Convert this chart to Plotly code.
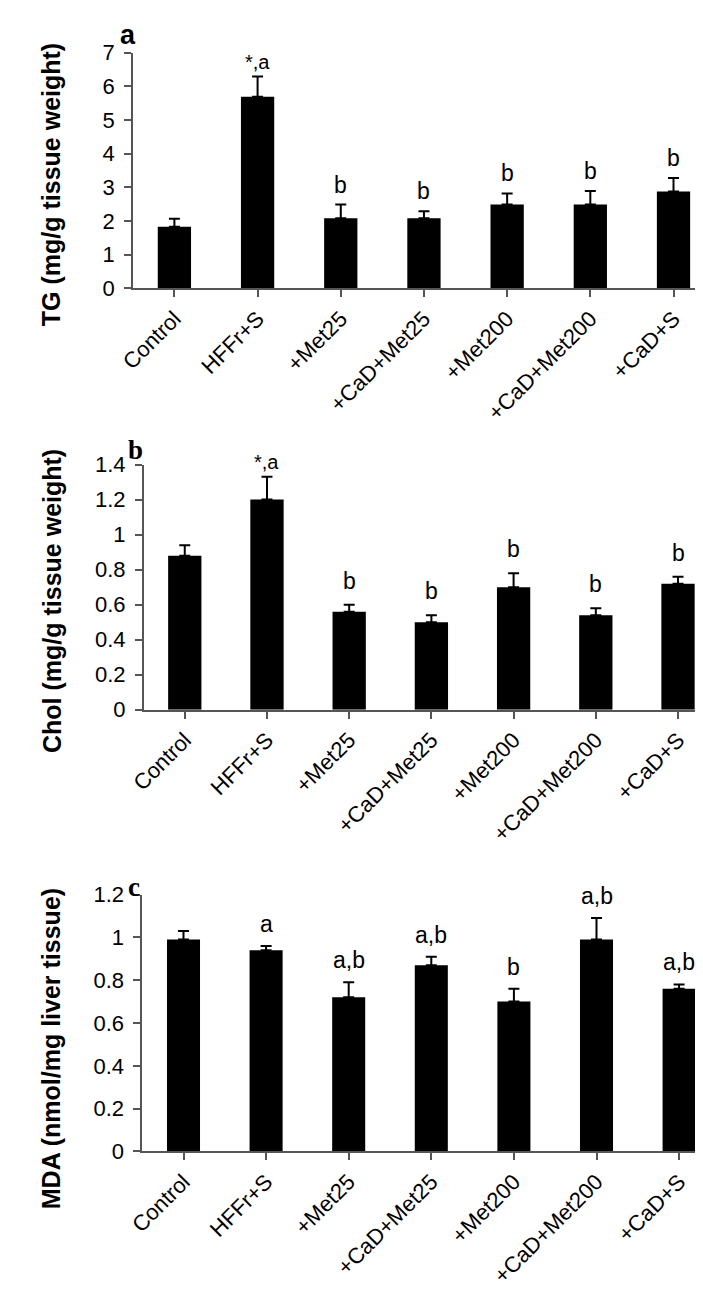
import plotly.graph_objects as go

groups = ["Control", "HFFr+S", "+Met25", "+CaD+Met25", "+Met200", "+CaD+Met200", "+CaD+S"]

tg_mean = [1.83, 5.69, 2.08, 2.08, 2.49, 2.49, 2.88]
tg_err = [0.24, 0.60, 0.41, 0.21, 0.33, 0.40, 0.40]
tg_sig = ["", "*,a", "b", "b", "b", "b", "b"]

chol_mean = [0.88, 1.20, 0.56, 0.50, 0.70, 0.54, 0.72]
chol_err = [0.06, 0.13, 0.04, 0.04, 0.08, 0.04, 0.04]
chol_sig = ["", "*,a", "b", "b", "b", "b", "b"]

mda_mean = [0.99, 0.94, 0.72, 0.87, 0.70, 0.99, 0.76]
mda_err = [0.04, 0.02, 0.07, 0.04, 0.06, 0.10, 0.02]
mda_sig = ["", "a", "a,b", "a,b", "b", "a,b", "a,b"]

tg_ticks = [0, 1, 2, 3, 4, 5, 6, 7]
chol_ticks = [0, 0.2, 0.4, 0.6, 0.8, 1, 1.2, 1.4]
mda_ticks = [0, 0.2, 0.4, 0.6, 0.8, 1, 1.2]

W, H = 703, 1299
SANS = "Liberation Sans, Arial, sans-serif"
SERIF = "Liberation Serif, Times New Roman, serif"
AX = "#555555"

panels = [
    dict(mean=tg_mean, err=tg_err, sig=tg_sig, ticks=tg_ticks, yr=[0, 7],
         left=112.2, step=85.0, zero=273.7, top=33.3, bw=0.40,
         title="TG (mg/g tissue weight)", tx=28, ty=168, sigshift=20,
         letter="a", lfont=SANS, lx=107.5, ly=15),
    dict(mean=chol_mean, err=chol_err, sig=chol_sig, ticks=chol_ticks, yr=[0, 1.4],
         left=123.3, step=84.0, zero=703.3, top=453.3, bw=0.405,
         title="Chol (mg/g tissue weight)", tx=29, ty=592, sigshift=24,
         letter="b", lfont=SERIF, lx=114.5, ly=438),
    dict(mean=mda_mean, err=mda_err, sig=mda_sig, ticks=mda_ticks, yr=[0, 1.2],
         left=121.8, step=84.4, zero=1153.7, top=891.7, bw=0.40,
         title="MDA (nmol/mg liver tissue)", tx=28, ty=1049, sigshift=22,
         letter="c", lfont=SERIF, lx=113.5, ly=884),
]

fig = go.Figure()
annotations = []
layout = {}
for i, p in enumerate(panels, start=1):
    xa = "x" if i == 1 else f"x{i}"
    ya = "y" if i == 1 else f"y{i}"
    xname = "xaxis" if i == 1 else f"xaxis{i}"
    yname = "yaxis" if i == 1 else f"yaxis{i}"
    fig.add_trace(go.Bar(
        x=list(range(len(groups))), y=p["mean"], width=p["bw"],
        marker=dict(color="black", line=dict(width=0)),
        error_y=dict(type="data", symmetric=False, array=p["err"],
                     arrayminus=[0] * len(groups), color="black",
                     thickness=2, width=5.5),
        xaxis=xa, yaxis=ya, hoverinfo="skip"))
    xr_max = -0.5 + (W - p["left"]) / p["step"]
    layout[xname] = dict(
        domain=[p["left"] / W, 1], range=[-0.5, xr_max], anchor=ya,
        tickmode="array", tickvals=list(range(len(groups))), ticktext=groups,
        tickangle=-45, tickson="boundaries", ticks="outside", ticklen=7,
        tickcolor=AX, tickwidth=1.5, showline=True, linecolor=AX, linewidth=1.5,
        showgrid=False, zeroline=False,
        tickfont=dict(family=SANS, size=22, color="black"))
    layout[yname] = dict(
        domain=[1 - p["zero"] / H, 1 - p["top"] / H], range=p["yr"], anchor=xa,
        tickmode="array", tickvals=p["ticks"], ticks="outside", ticklen=7,
        tickcolor=AX, tickwidth=1.5, showline=True, linecolor=AX, linewidth=1.5,
        showgrid=False, zeroline=False, ticklabelstandoff=5,
        tickfont=dict(family=SANS, size=22, color="black"))
    for k, s in enumerate(p["sig"]):
        if not s:
            continue
        annotations.append(dict(
            x=k, y=p["mean"][k] + p["err"][k], xref=xa, yref=ya,
            text=s, showarrow=False, yanchor="middle",
            yshift=(15 if s.startswith("*") else p["sigshift"]),
            font=dict(family=SANS, size=(20 if s.startswith("*") else 23), color="black")))
    annotations.append(dict(
        x=p["tx"] / W, y=1 - p["ty"] / H, xref="paper", yref="paper",
        text=f"<b>{p['title']}</b>", textangle=-90, showarrow=False,
        xanchor="center", yanchor="middle",
        font=dict(family=SANS, size=25, color="black")))
    annotations.append(dict(
        x=p["lx"] / W, y=1 - p["ly"] / H, xref="paper", yref="paper",
        text=f"<b>{p['letter']}</b>", showarrow=False,
        xanchor="center", yanchor="middle",
        font=dict(family=p["lfont"], size=27, color="black")))

fig.update_layout(
    width=W, height=H, margin=dict(l=0, r=0, t=0, b=0),
    paper_bgcolor="white", plot_bgcolor="white", showlegend=False,
    annotations=annotations, **layout)

fig.write_html("out.html")
